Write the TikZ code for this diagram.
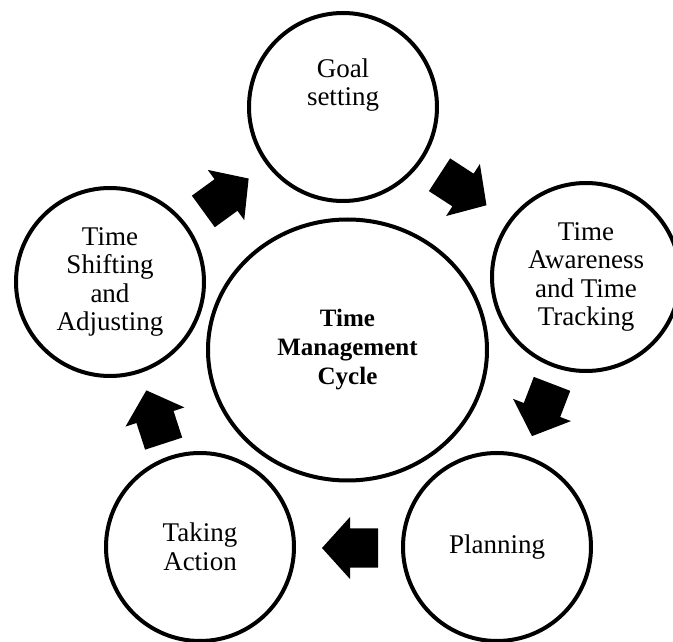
\documentclass[tikz,border=0pt]{standalone}
\usepackage{fontspec}
\setmainfont{Liberation Serif}
\usepackage{tikz}
\usetikzlibrary{shapes.geometric}
\tikzstyle{stage}=[draw, circle, line width=4pt, minimum size=188pt, inner sep=0pt, align=center, font=\fontsize{27}{28.5}\selectfont]
\tikzstyle{hub}=[draw, ellipse, line width=4pt, minimum width=279pt, minimum height=261pt, inner sep=0pt, align=center, font=\fontsize{25}{29}\selectfont\bfseries]
\newcommand{\blockArrow}[2]{
	\fill[shift={#1}, rotate=#2] (-28,-19.5) -- (0,-19.5) -- (0,-31) -- (28,0) -- (0,31) -- (0,19.5) -- (-28,19.5) -- cycle;
}

\begin{document}
\begin{tikzpicture}[x=1pt,y=1pt]
	\useasboundingbox (0,0) rectangle (673,641);
	\node[hub] (cycle) at (347.5,291) {Time\\Management\\Cycle};
	\node[stage] (goal) at (343,534) {};
	\node[font=\fontsize{27}{28.5}\selectfont, align=center] (goaltext) at ([yshift=22pt]goal.center) {Goal\\setting};
	\node[stage] (aware) at (586,364) {Time\\Awareness\\and Time\\Tracking};
	\node[stage] (plan) at (497,94) {Planning};
	\node[stage] (action) at (200,94) {Taking\\Action};
	\node[stage] (shift) at (110,359) {Time\\Shifting\\and\\Adjusting};
	\blockArrow{(463,451)}{-33}
	\blockArrow{(542,231)}{-111}
	\blockArrow{(350,93)}{180}
	\blockArrow{(155,224)}{108}
	\blockArrow{(226,446)}{36}
\end{tikzpicture}
\end{document}
